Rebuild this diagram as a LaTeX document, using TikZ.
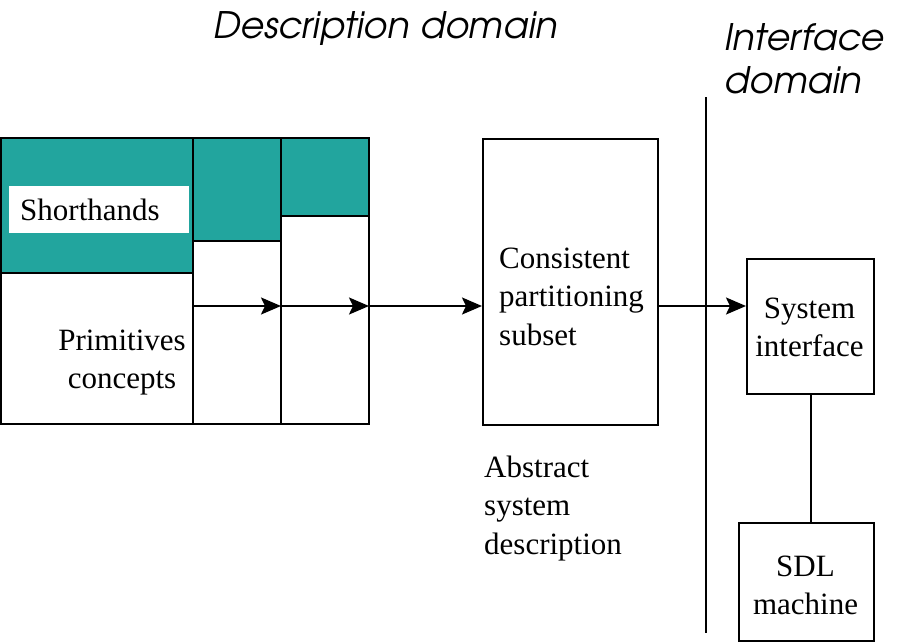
\documentclass[tikz,border=0pt]{standalone}
\usepackage{fontspec}
\setmainfont{Liberation Serif}
\newfontfamily\titlefont{TeX Gyre Adventor}
\usetikzlibrary{arrows.meta}
\definecolor{tealfill}{RGB}{34,165,158}
\tikzset{
  boxstyle/.style={draw=black, line width=2pt, fill=white, inner sep=0pt},
  arr/.style={line width=2pt, -{Stealth[length=20pt,width=17pt,inset=4pt]}},
  plain/.style={line width=2pt},
  lbl/.style={inner sep=0pt, font=\fontsize{31}{38.5}\selectfont},
  ttl/.style={inner sep=0pt, font=\titlefont\itshape\fontsize{36.5}{43}\selectfont},
}
\newcommand{\mlc}[1]{\begin{tabular}[t]{@{}c@{}}#1\end{tabular}}
\newcommand{\mll}[1]{\begin{tabular}[t]{@{}l@{}}#1\end{tabular}}
\begin{document}
\begin{tikzpicture}[x=1pt,y=-1pt]
\useasboundingbox (0,0) rectangle (914,643);
% left block fills
\fill[tealfill] (1,138) rectangle (193,273);
\fill[tealfill] (193,138) rectangle (281,241);
\fill[tealfill] (281,138) rectangle (369,216);
\node[fill=white, anchor=west, minimum width=180pt, minimum height=47pt, inner sep=0pt, inner xsep=11pt, text width=158pt, align=left, font=\fontsize{31}{38.5}\selectfont] (sh) at (9,209.5) {Shorthands};
% left block outlines
\draw[plain] (1,138) rectangle (369,424);
\draw[plain] (193,138) -- (193,424);
\draw[plain] (281,138) -- (281,424);
\draw[plain] (1,273) -- (193,273);
\draw[plain] (193,241) -- (281,241);
\draw[plain] (281,216) -- (369,216);
\node[lbl, anchor=base] (prim) at (122,350) {\mlc{Primitives\\concepts}};
\coordinate (a0) at (193,306);
\coordinate (a1) at (281,306);
\coordinate (a2) at (369,306);
% main boxes
\node[boxstyle, anchor=north west, minimum width=175pt, minimum height=286pt] (cps) at (482,138) {};
\node[lbl, anchor=base west] (cpst) at (499,268) {\mll{Consistent\\partitioning\\subset}};
\node[lbl, anchor=base west] (abs) at (484,477) {\mll{Abstract\\system\\description}};
\node[boxstyle, anchor=north west, minimum width=127pt, minimum height=135pt] (sys) at (746,258) {};
\node[lbl, anchor=base] (syst) at (809.5,318) {\mlc{System\\interface}};
\node[boxstyle, anchor=north west, minimum width=135pt, minimum height=118pt] (sdl) at (738,522) {};
\node[lbl, anchor=base] (sdlt) at (805.5,576) {\mlc{SDL\\machine}};
% divider
\coordinate (vt) at (706,97);
\coordinate (vb) at (706,633);
\draw[plain] (vt) -- (vb);
% connectors
\draw[arr] (a0) -- (a1);
\draw[arr] (a1) -- (a2);
\draw[arr] (a2) -- (a2 -| cps.west);
\draw[arr] (a2 -| cps.east) -- (a2 -| sys.west);
\draw[plain] (sys.south) -- (sys.south |- sdl.north);
% titles
\node[ttl, anchor=base west] (dd) at (213,38) {Description domain};
\node[ttl, anchor=base west] (id) at (724,50) {\mll{Interface\\domain}};
\end{tikzpicture}
\end{document}
